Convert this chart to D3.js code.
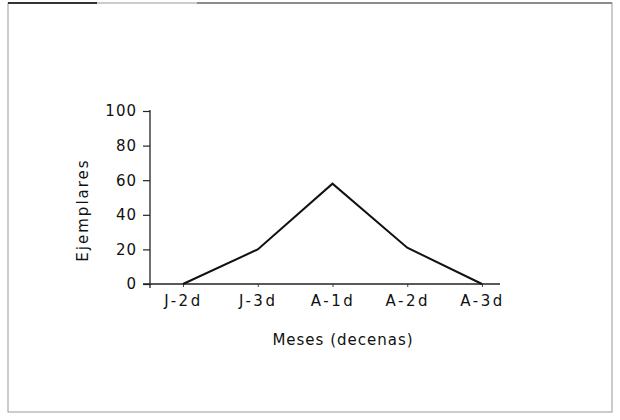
<!DOCTYPE html>
<html><head><meta charset="utf-8">
<script src="https://cdn.jsdelivr.net/npm/d3@7"></script>
<style>body{margin:0;background:#fff}svg{display:block}text{font-family:"DejaVu Sans",sans-serif;fill:#111}</style>
</head><body>
<script>
const categories = ["J-2d","J-3d","A-1d","A-2d","A-3d"];
const values = [0, 20, 58, 21, 0];
const yTicks = [0, 20, 40, 60, 80, 100];
const xTitle = "Meses (decenas)";
const yTitle = "Ejemplares";

const W = 620, H = 420;
const svg = d3.select("body").append("svg").attr("width", W).attr("height", H);
const FONT = "'DejaVu Sans',sans-serif";

// frame
svg.append("rect").attr("x", 8).attr("y", 3).attr("width", 604).attr("height", 409)
  .attr("fill", "none").attr("stroke", "#999").attr("stroke-width", 1);
svg.append("line").attr("x1", 8).attr("x2", 97).attr("y1", 3).attr("y2", 3)
  .attr("stroke", "#333").attr("stroke-width", 2);
svg.append("line").attr("x1", 197).attr("x2", 612).attr("y1", 3).attr("y2", 3)
  .attr("stroke", "#777").attr("stroke-width", 1.5);

const x = d3.scalePoint().domain(categories).range([183, 482]);
const y = d3.scaleLinear().domain([0, 100]).range([284, 111]);

// y axis
const ya = svg.append("g").attr("transform", "translate(150,0)")
  .call(d3.axisLeft(y).tickValues(yTicks).tickSize(7).tickPadding(6).tickFormat(d3.format("d")));
ya.select(".domain").remove();
ya.selectAll("line").attr("stroke", "#222").attr("stroke-width", 1.2);
ya.selectAll("text").attr("font-size", 15).style("font-family", FONT).style("letter-spacing", "1px").attr("fill", "#111");
svg.append("line").attr("x1", 150).attr("x2", 150).attr("y1", y(100) - 1).attr("y2", y(0) + 4)
  .attr("stroke", "#222").attr("stroke-width", 1.3);

// x axis
const xa = svg.append("g").attr("transform", "translate(0,284)")
  .call(d3.axisBottom(x).tickSize(3).tickPadding(8));
xa.select(".domain").remove();
xa.selectAll("line").attr("stroke", "#444");
xa.selectAll("text").attr("font-size", 15).style("font-family", FONT).style("letter-spacing", "2.5px").attr("fill", "#111");
svg.append("line").attr("x1", 143).attr("x2", 500).attr("y1", 284).attr("y2", 284)
  .attr("stroke", "#222").attr("stroke-width", 1.3);

// line
const line = d3.line().x((d, i) => x(categories[i])).y(d => y(d));
svg.append("path").datum(values).attr("d", line)
  .attr("fill", "none").attr("stroke", "#111").attr("stroke-width", 2);

// titles
svg.append("text").attr("x", 343).attr("y", 345).attr("text-anchor", "middle")
  .attr("font-size", 15).style("letter-spacing", "1px").text(xTitle);
svg.append("text").attr("transform", "translate(88,210) rotate(-90)").attr("text-anchor", "middle")
  .attr("font-size", 15).style("letter-spacing", "2px").text(yTitle);
</script>
</body></html>
